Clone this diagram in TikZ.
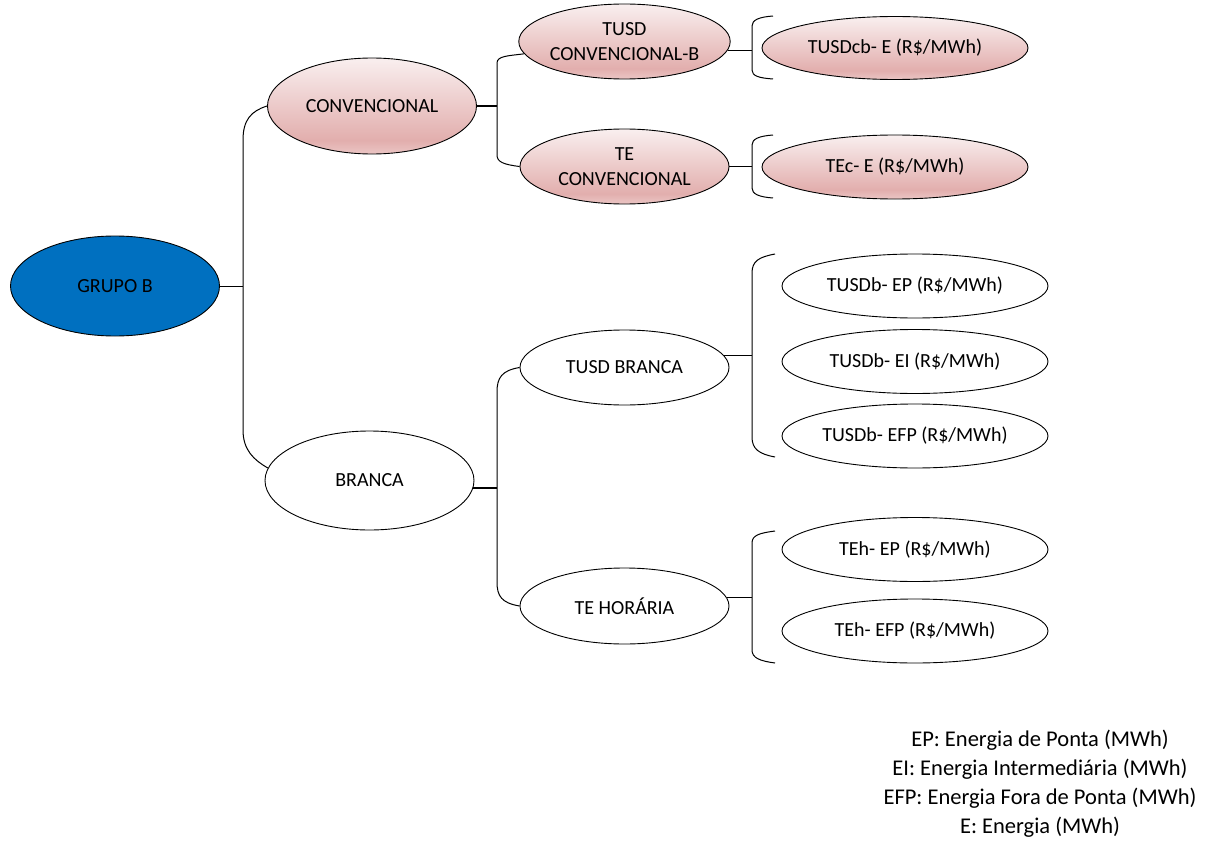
\documentclass[tikz,border=0pt]{standalone}
\usepackage{fontspec}
\setmainfont{Carlito}
\usetikzlibrary{shapes.geometric}

\definecolor{grpblue}{HTML}{0070C0}
\definecolor{pinktop}{HTML}{F9EFEF}
\definecolor{pinkmid}{HTML}{E2AEAD}
\definecolor{pinkbot}{HTML}{EBC6C5}
% soft rose fill: light at the top, darkest just above the bottom edge
\pgfdeclareverticalshading{rosefill}{100bp}{color(0bp)=(pinkbot); color(25bp)=(pinkbot); color(32bp)=(pinkmid); color(75bp)=(pinktop); color(100bp)=(pinktop)}

\tikzset{
  ell/.style={ellipse, draw=black, line width=0.9pt, inner sep=0pt,
              font=\fontsize{20}{24.4}\selectfont, align=center},
  bluenode/.style={ell, fill=grpblue},
  rosenode/.style={ell, shading=rosefill},
  whitenode/.style={ell, fill=white},
  big/.style={minimum width=209pt},
  leaf/.style={minimum width=266pt, minimum height=64pt},
  link/.style={line width=1pt, line join=round},
  stub/.style={line width=1.5pt},
}

\begin{document}
\begin{tikzpicture}[x=1pt, y=-1pt]
\fill[white] (0,0) rectangle (1208,843);
\useasboundingbox (0,0) rectangle (1208,843);

% ---- tree nodes ----
\node[bluenode, big, minimum height=100pt] (gb) at (115,286) {GRUPO B};

\node[rosenode, big, minimum height=96pt] (conv) at (372,106) {CONVENCIONAL};
\node[whitenode, big, minimum height=99pt] (branca) at (369.5,480.5) {BRANCA};

\node[rosenode, big, minimum height=75pt] (tcb) at (624.5,41.5) {TUSD\\CONVENCIONAL-B};
\node[rosenode, big, minimum height=75pt] (tec) at (624.5,166.5) {TE\\CONVENCIONAL};
\node[whitenode, big, minimum height=75pt] (tb) at (624.5,367.5) {TUSD BRANCA};
\node[whitenode, big, minimum height=76pt] (teh) at (624.5,606) {TE HORÁRIA};

\node[rosenode, leaf, minimum height=63pt] (e1) at (895,48) {TUSDcb- E (R\$/MWh)};
\node[rosenode, leaf] (e2) at (895,167) {TEc- E (R\$/MWh)};

\node[whitenode, leaf] (b1) at (915,286) {TUSDb- EP (R\$/MWh)};
\node[whitenode, leaf] (b2) at (915,361.5) {TUSDb- EI (R\$/MWh)};
\node[whitenode, leaf] (b3) at (915,436) {TUSDb- EFP (R\$/MWh)};

\node[whitenode, leaf] (h1) at (915,549.5) {TEh- EP (R\$/MWh)};
\node[whitenode, leaf] (h2) at (915,631) {TEh- EFP (R\$/MWh)};

% ---- GRUPO B -> CONVENCIONAL / BRANCA ----
\coordinate (j0) at (243,286);
\coordinate (j0t) at (243,140);
\coordinate (j0b) at (243,430);
\draw[link] (gb.east) -- (j0);
\draw[link] (conv.west) .. controls +(-16,5) and +(0,-20) .. (j0t) -- (j0b)
            .. controls +(0,20) and +(-14,-8) .. (branca.173);

% ---- CONVENCIONAL -> TUSD / TE ----
\coordinate (j1) at (497,106);
\coordinate (j1t) at (497,63);
\coordinate (j1b) at (497,155);
\draw[stub] (conv.east) -- (j1);
\draw[link] (tcb.187) .. controls +(-16,2) and +(0,-7) .. (j1t) -- (j1b)
            .. controls +(0,7) and +(-16,-2) .. (tec.west);

% ---- BRANCA -> TUSD BRANCA / TE HORÁRIA ----
\coordinate (j2) at (497,487);
\coordinate (j2t) at (497,392);
\coordinate (j2b) at (497,582);
\draw[stub] (branca.-4) -- (branca.-4 -| j2);
\draw[link] (tb.west) .. controls +(-18,3) and +(0,-14) .. (j2t) -- (j2b)
            .. controls +(0,14) and +(-18,-3) .. (teh.west);

% ---- right-hand brackets ----
% TUSD CONVENCIONAL-B
\coordinate (k1) at (752,48);
\coordinate (k1a) at (773,16);
\coordinate (k1b) at (752,26);
\coordinate (k1c) at (752,70);
\coordinate (k1d) at (773,79);
\draw[link] (tcb.-5) -- (tcb.-5 -| k1);
\draw[link] (k1a) .. controls +(-14,1) and +(0,-6) .. (k1b) -- (k1c)
            .. controls +(0,6) and +(-14,-1) .. (k1d);

% TE CONVENCIONAL
\coordinate (k2) at (752,167);
\coordinate (k2a) at (773,135);
\coordinate (k2b) at (752,145);
\coordinate (k2c) at (752,188);
\coordinate (k2d) at (773,198);
\draw[link] (tec.east) -- (tec.east -| k2);
\draw[link] (k2a) .. controls +(-14,1) and +(0,-6) .. (k2b) -- (k2c)
            .. controls +(0,6) and +(-14,-1) .. (k2d);

% TUSD BRANCA
\coordinate (k3) at (752,355);
\coordinate (k3a) at (775,254);
\coordinate (k3b) at (752,273);
\coordinate (k3c) at (752,437);
\coordinate (k3d) at (775,457);
\draw[link] (tb.7) -- (tb.7 -| k3);
\draw[link] (k3a) .. controls +(-16,3) and +(0,-12) .. (k3b) -- (k3c)
            .. controls +(0,12) and +(-16,-3) .. (k3d);

% TE HORÁRIA
\coordinate (k4) at (752,597);
\coordinate (k4a) at (775,531);
\coordinate (k4b) at (752,543);
\coordinate (k4c) at (752,650);
\coordinate (k4d) at (775,663);
\draw[link] (teh.5) -- (teh.5 -| k4);
\draw[link] (k4a) .. controls +(-15,2) and +(0,-8) .. (k4b) -- (k4c)
            .. controls +(0,8) and +(-15,-2) .. (k4d);

% ---- legend ----
\node[font=\fontsize{22.5}{29}\selectfont, align=center, anchor=north, inner sep=0pt]
  (legend) at (1040,730) {EP: Energia de Ponta (MWh)\\
  EI: Energia Intermediária (MWh)\\
  EFP: Energia Fora de Ponta (MWh)\\
  E: Energia (MWh)};
\end{tikzpicture}
\end{document}
